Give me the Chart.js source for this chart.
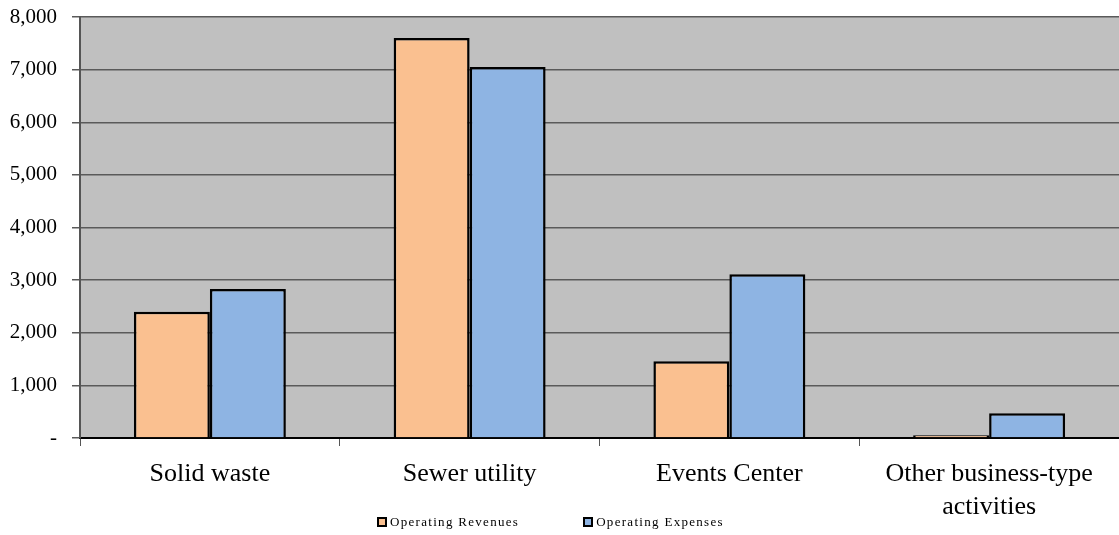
<!DOCTYPE html>
<html lang="en">
<head>
  <meta charset="UTF-8">
  <title>Operating Revenues and Expenses</title>
  <script src="https://cdn.jsdelivr.net/npm/chart.js"></script>
  <style>
    body { margin: 0; background: #fff; }
    .wrap { position: relative; width: 1119px; height: 535px; }
    .legend {
      position: absolute; top: 514px; left: 377px;
      display: flex; gap: 64px;
      font-family: "Liberation Serif", "Times New Roman", serif; font-size: 13px; letter-spacing: 1.3px; color: #000;
    }
    .legend span.item { display: flex; align-items: center; }
    .legend i { display: inline-block; flex: none; width: 6px; height: 6px; border: 2px solid #000; margin-right: 3px; }
  </style>
</head>
<body>
  <div class="wrap">
    <canvas id="chart" width="1119" height="535"></canvas>
    <div class="legend" id="legend"></div>
  </div>

  <script>
    // data (thousands)
    const categories = ['Solid waste', 'Sewer utility', 'Events Center', ['Other business-type', 'activities']];
    const revenues = [2400, 7600, 1460, 50];
    const expenses = [2830, 7050, 3110, 470];
    const seriesNames = ['Operating Revenues', 'Operating Expenses'];
    const seriesColors = ['#FAC090', '#8EB4E3'];

    // grey plot background
    const plotBg = {
      id: 'plotBg',
      beforeDraw(chart) {
        const { ctx, chartArea: a } = chart;
        ctx.save();
        ctx.fillStyle = '#C0C0C0';
        ctx.fillRect(a.left, a.top, a.right - a.left, a.bottom - a.top);
        ctx.restore();
      }
    };

    const serif = '"Liberation Serif", "Times New Roman", serif';

    new Chart(document.getElementById('chart'), {
      type: 'bar',
      data: {
        labels: categories,
        datasets: [
          { label: seriesNames[0], data: revenues, backgroundColor: seriesColors[0], borderColor: '#000', borderWidth: 2.5 },
          { label: seriesNames[1], data: expenses, backgroundColor: seriesColors[1], borderColor: '#000', borderWidth: 2.5 }
        ]
      },
      options: {
        responsive: false,
        animation: false,
        layout: { padding: { top: 17, right: 0, bottom: 0, left: 0 } },
        datasets: { bar: { categoryPercentage: 0.585, barPercentage: 1 } },
        plugins: { legend: { display: false }, tooltip: { enabled: false } },
        scales: {
          x: {
            grid: { offset: true, drawOnChartArea: false, tickLength: 8, color: '#555', lineWidth: 1 },
            border: { color: '#000', width: 2 },
            ticks: { color: '#000', padding: 12, font: { family: serif, size: 26, lineHeight: 1.26 }, maxRotation: 0 },
            afterFit(scale) { scale.height = 97; }
          },
          y: {
            min: 0, max: 8000,
            ticks: {
              stepSize: 1000, color: '#000', padding: 15,
              font: { family: serif, size: 21 },
              callback: v => v === 0 ? '-' : v.toLocaleString('en-US')
            },
            grid: { color: '#5a5a5a', lineWidth: 1.5, tickLength: 8 },
            border: { color: '#555', width: 2 },
            afterFit(scale) {
              scale.width = 80;
              scale.paddingTop = 8;
              scale.paddingBottom = 8;
            }
          }
        }
      },
      plugins: [plotBg]
    });

    // legend under the chart
    const legend = document.getElementById('legend');
    seriesNames.forEach((name, i) => {
      const item = document.createElement('span');
      item.className = 'item';
      const box = document.createElement('i');
      box.style.background = seriesColors[i];
      item.appendChild(box);
      item.appendChild(document.createTextNode(name));
      legend.appendChild(item);
    });
  </script>
</body>
</html>
